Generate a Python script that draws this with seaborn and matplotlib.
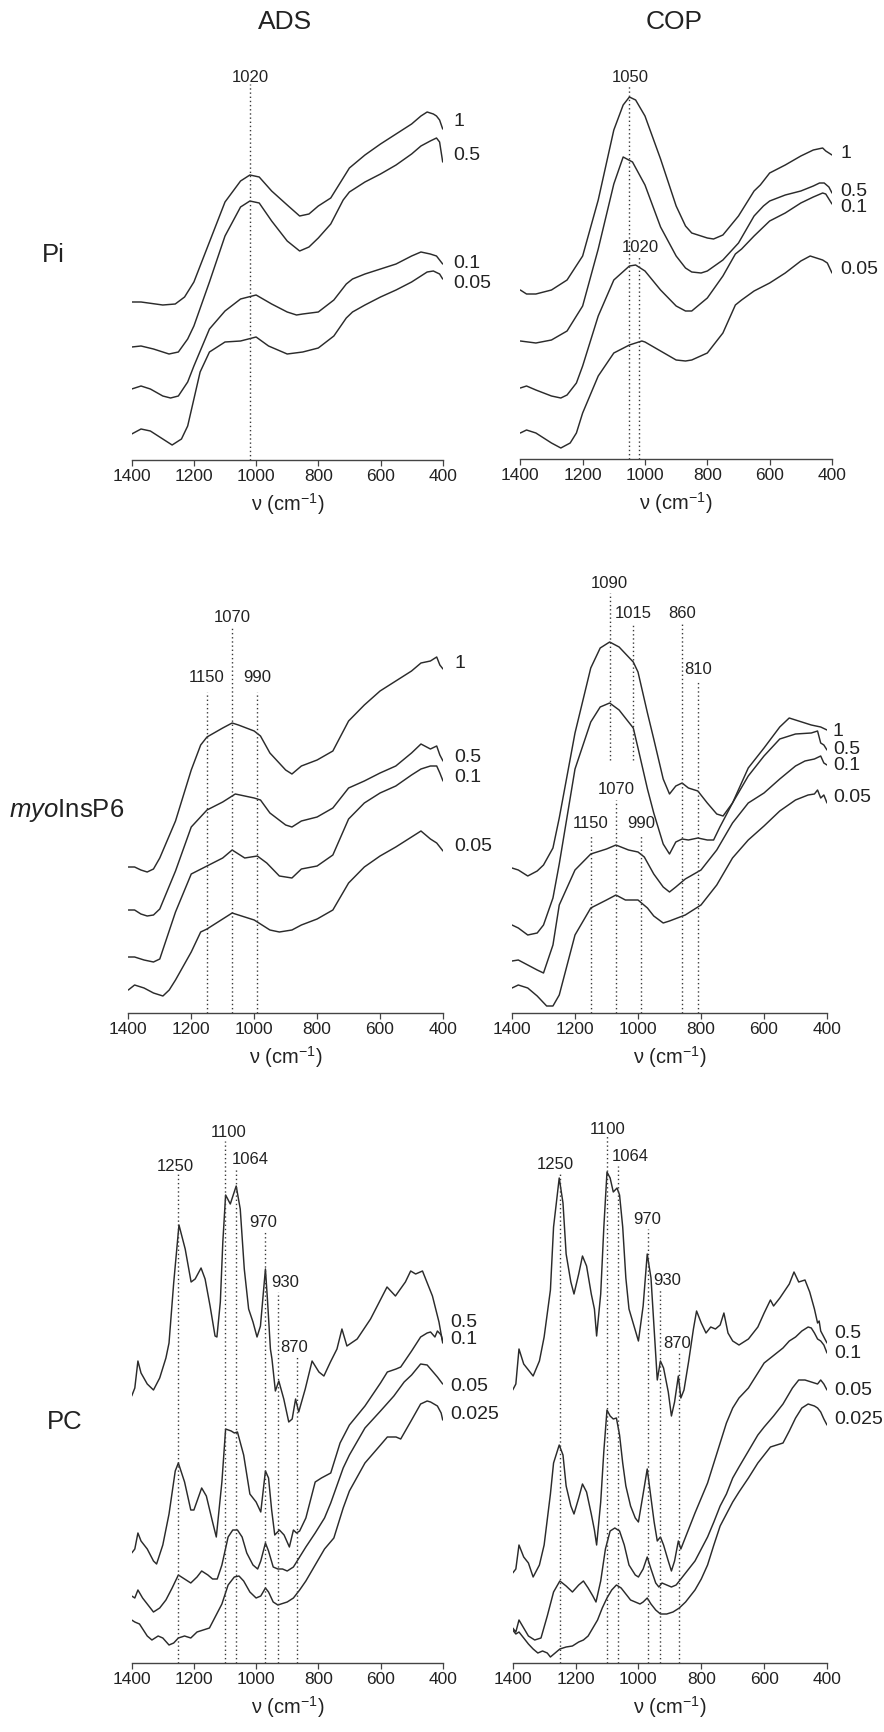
import matplotlib
matplotlib.use("Agg")
import matplotlib.pyplot as plt
import seaborn as sns
import pandas as pd

# ---------------- data (wavenumber cm-1, absorbance in arbitrary units) ----------------
# Row 1: Pi, ADS
ads_pi_1_w = [1400,1370,1300,1260,1230,1200,1150,1100,1050,1020,990,950,900,860,830,800,760,720,700,650,600,550,500,470,450,430,420,410,400]
ads_pi_1_a = [158,158,155,156,163,178,218,258,279,285,283,269,255,244,246,254,262,282,292,305,316,326,336,344,348,346,344,340,331]
ads_pi_05_w = [1400,1370,1330,1280,1250,1220,1200,1150,1100,1050,1020,990,950,900,860,830,800,760,720,700,650,600,550,500,470,440,420,410,400]
ads_pi_05_a = [113,114,111,106,108,121,134,178,224,253,259,257,239,219,209,213,222,236,260,268,278,286,295,306,314,319,322,318,298]
ads_pi_01_w = [1400,1370,1340,1300,1275,1250,1220,1200,1150,1100,1050,1000,950,900,870,850,800,750,710,690,650,600,550,500,470,440,420,400]
ads_pi_01_a = [71,74,71,64,62,64,78,94,131,149,161,165,156,148,145,146,148,160,176,181,186,191,196,204,208,206,204,196]
ads_pi_005_w = [1400,1370,1340,1300,1270,1240,1220,1200,1180,1150,1100,1050,1000,960,900,850,800,750,710,690,650,600,550,500,470,450,430,410,400]
ads_pi_005_a = [26,31,29,21,15,21,34,61,88,108,118,119,123,114,106,108,112,124,142,148,155,163,170,178,184,188,189,186,181]

# Row 1: Pi, COP
cop_pi_1_w = [1400,1380,1350,1300,1250,1200,1150,1100,1070,1050,1030,1000,950,900,870,850,800,780,750,700,650,630,600,550,500,460,430,420,410,400]
cop_pi_1_a = [169,165,165,169,179,203,259,329,354,362,359,343,300,253,233,226,221,220,224,243,268,274,286,294,303,309,311,308,306,304]
cop_pi_05_w = [1400,1350,1300,1250,1200,1150,1100,1070,1040,1000,950,900,870,850,820,800,750,700,650,620,600,550,500,460,440,425,410,400]
cop_pi_05_a = [118,116,119,128,153,210,275,302,297,274,232,203,191,187,186,188,199,216,243,253,258,264,268,273,276,276,272,266]
cop_pi_01_w = [1400,1380,1350,1300,1270,1250,1220,1200,1150,1100,1050,1030,1000,950,900,870,850,800,750,710,690,650,600,550,500,460,430,420,410,400]
cop_pi_01_a = [71,73,69,63,61,64,76,93,143,179,193,194,188,169,153,148,148,161,183,205,210,223,238,246,256,262,266,265,260,255]
cop_pi_005_w = [1400,1380,1350,1300,1270,1240,1220,1200,1150,1100,1050,1010,1000,950,900,870,850,800,750,710,690,650,600,550,500,470,450,430,415,400]
cop_pi_005_a = [26,29,26,16,11,16,26,46,83,106,114,118,117,108,99,98,99,106,126,154,159,168,176,186,198,203,201,199,196,186]

# Row 2: myo-InsP6, ADS
ads_ip6_1_w = [1400,1380,1360,1340,1320,1300,1250,1200,1170,1150,1100,1070,1050,1000,980,950,900,880,850,800,750,700,650,600,550,500,470,440,420,410,400]
ads_ip6_1_a = [146,146,143,141,144,155,192,243,268,276,285,290,288,282,277,260,243,239,247,253,262,292,308,322,332,342,350,352,356,348,344]
ads_ip6_05_w = [1400,1380,1360,1340,1320,1300,1250,1200,1150,1100,1060,1030,1000,980,950,900,880,850,800,750,700,650,600,550,500,470,440,420,410,400]
ads_ip6_05_a = [103,103,99,97,98,104,142,186,203,211,219,217,215,213,200,188,186,192,196,205,225,232,240,247,260,269,264,267,258,252]
ads_ip6_01_w = [1400,1380,1350,1320,1300,1250,1200,1150,1100,1070,1030,990,960,920,880,850,800,750,700,650,600,550,500,470,440,420,410,400]
ads_ip6_01_a = [56,56,53,51,54,101,139,147,155,163,155,157,150,137,135,144,147,158,194,210,220,227,238,244,247,247,240,232]
ads_ip6_005_w = [1400,1380,1350,1320,1290,1270,1250,1200,1170,1150,1100,1070,1050,1000,980,950,920,880,850,800,750,700,650,600,550,500,470,440,420,410,400]
ads_ip6_005_a = [23,28,25,20,17,23,33,61,81,84,94,100,98,93,89,83,81,83,88,94,103,130,146,157,166,176,182,174,170,166,162]

# Row 2: myo-InsP6, COP
cop_ip6_1_w = [1400,1380,1350,1320,1300,1270,1250,1200,1150,1120,1090,1060,1030,1015,1000,970,950,920,900,880,860,840,810,780,750,730,700,650,600,550,520,500,450,420,400]
cop_ip6_1_a = [145,143,137,142,148,165,195,280,345,365,371,366,356,351,341,300,274,234,219,227,230,225,222,210,199,197,210,245,265,286,295,293,288,286,283]
cop_ip6_05_w = [1400,1380,1350,1320,1300,1270,1250,1200,1150,1120,1090,1060,1030,1015,1000,970,950,920,900,880,860,840,810,780,760,740,700,650,600,550,500,450,430,420,410,400]
cop_ip6_05_a = [88,85,78,80,88,115,149,244,291,306,310,303,291,285,265,224,200,169,159,171,174,173,175,173,173,186,210,237,257,274,279,280,282,270,268,263]
cop_ip6_01_w = [1400,1380,1350,1320,1300,1270,1250,1200,1150,1100,1070,1030,1000,980,950,920,900,880,850,800,750,700,650,600,550,500,470,440,420,410,400]
cop_ip6_01_a = [52,53,48,43,40,68,108,143,159,164,168,163,161,156,139,126,121,126,134,143,163,190,210,220,234,247,252,254,257,250,248]
cop_ip6_005_w = [1400,1380,1350,1320,1290,1270,1250,1200,1150,1100,1070,1040,1000,970,950,920,900,850,800,750,700,650,600,550,500,460,440,430,420,410,400]
cop_ip6_005_a = [25,28,25,17,7,7,18,78,105,113,118,113,113,105,97,90,92,98,108,128,155,173,187,202,213,218,219,223,215,218,210]

# Row 3: PC, ADS
ads_pc_05_w = [1400,1390,1380,1370,1350,1330,1310,1290,1280,1265,1248,1228,1209,1196,1177,1164,1148,1132,1126,1115,1107,1098,1083,1064,1051,1038,1024,1010,997,986,970,963,954,949,938,927,911,895,884,873,863,842,820,798,782,761,740,724,708,675,632,579,552,520,503,487,465,433,412,400]
ads_pc_05_a = [267,275,302,290,279,273,285,305,320,380,438,414,381,384,395,384,357,327,326,361,421,468,459,477,454,394,354,341,326,337,394,361,314,304,272,282,264,241,244,264,251,274,302,291,287,301,314,334,317,324,344,376,367,381,392,389,392,367,341,320]
ads_pc_01_w = [1400,1390,1380,1370,1350,1330,1320,1300,1280,1260,1250,1230,1210,1200,1175,1160,1140,1128,1110,1098,1080,1070,1060,1040,1020,1000,985,970,960,950,940,925,910,893,880,870,860,840,810,790,760,730,700,650,600,578,550,535,500,471,450,439,425,417,405,400]
ads_pc_01_a = [110,114,130,122,114,102,99,118,149,192,200,181,153,153,175,167,141,126,181,234,232,230,231,208,169,161,151,192,185,153,128,133,128,116,133,130,132,145,181,185,190,220,238,257,280,291,294,296,312,326,330,331,326,332,328,322]
ads_pc_005_w = [1400,1390,1380,1365,1340,1330,1310,1290,1270,1250,1230,1210,1190,1175,1155,1140,1125,1110,1090,1075,1060,1045,1030,1010,995,985,970,960,945,930,915,900,880,860,840,810,780,760,720,700,650,600,557,524,500,471,450,439,417,400]
ads_pc_005_a = [67,65,73,65,55,51,55,63,75,88,84,80,86,92,88,84,84,98,126,133,133,126,110,98,94,102,120,112,96,94,94,92,96,106,116,130,145,160,195,208,235,252,267,281,288,299,298,294,286,279]
ads_pc_0025_w = [1400,1390,1375,1350,1335,1315,1300,1280,1265,1250,1230,1210,1190,1170,1150,1130,1110,1090,1070,1055,1040,1020,1000,985,970,960,945,930,900,880,860,840,810,780,750,720,700,650,600,578,550,535,500,471,450,439,417,405,400]
ads_pc_0025_a = [43,41,39,27,23,27,25,18,20,25,27,25,31,33,35,47,59,78,86,87,82,71,65,67,75,71,61,58,61,65,73,82,98,114,125,155,172,200,218,226,226,224,243,259,262,261,257,250,243]

# Row 3: PC, COP
cop_pc_05_w = [1400,1390,1380,1365,1350,1335,1315,1300,1280,1270,1252,1240,1230,1215,1205,1190,1178,1165,1150,1140,1133,1120,1110,1100,1090,1080,1068,1060,1050,1040,1030,1015,1000,985,972,960,950,940,930,920,905,895,885,873,865,855,840,825,815,800,785,770,755,740,728,715,700,680,650,620,600,580,570,550,520,505,490,470,455,440,430,425,420,410,400]
cop_pc_05_a = [273,279,314,299,293,287,302,326,373,436,485,460,409,381,369,389,407,397,369,354,327,369,436,491,485,471,475,468,436,385,354,338,322,357,409,385,334,283,302,295,271,247,261,287,265,273,302,334,352,340,330,336,334,338,350,330,322,318,324,336,350,363,357,365,379,391,381,383,371,354,340,342,332,326,320]
cop_pc_01_w = [1400,1390,1380,1365,1350,1335,1315,1300,1280,1270,1252,1240,1230,1215,1205,1190,1178,1165,1150,1140,1133,1120,1110,1100,1090,1080,1070,1060,1050,1040,1025,1010,1000,985,972,960,950,940,930,920,905,895,885,873,865,850,820,800,780,760,740,720,700,680,650,620,600,580,560,540,520,500,480,460,450,440,430,420,410,400]
cop_pc_01_a = [90,94,118,106,100,86,98,118,169,200,218,208,177,157,149,165,179,171,149,133,118,161,212,253,247,244,245,228,200,177,157,145,141,169,194,165,141,122,126,118,102,92,102,122,114,126,150,165,180,200,220,240,255,265,275,290,300,305,310,315,322,326,332,336,335,330,324,322,318,310]
cop_pc_005_w = [1400,1390,1380,1365,1350,1330,1310,1290,1270,1250,1230,1210,1190,1175,1160,1145,1135,1120,1105,1090,1075,1060,1045,1030,1010,1000,985,972,960,945,935,925,910,895,880,860,840,820,800,780,760,740,720,700,680,650,620,600,570,540,510,490,470,450,430,420,410,400]
cop_pc_005_a = [35,31,43,35,27,23,25,47,71,82,77,71,78,82,75,67,61,82,114,132,135,132,118,98,88,86,94,106,94,80,76,80,78,76,78,86,94,102,114,126,141,157,169,185,196,212,228,236,247,259,275,283,283,281,279,283,279,273]
cop_pc_0025_w = [1400,1390,1380,1365,1350,1335,1320,1305,1290,1280,1265,1250,1230,1210,1190,1175,1160,1145,1130,1115,1100,1085,1070,1055,1040,1025,1010,995,985,972,960,945,930,910,890,870,850,820,800,780,760,740,720,700,680,650,620,600,580,560,540,520,500,480,460,440,430,420,410,400]
cop_pc_0025_a = [33,29,31,25,19,14,10,12,10,6,10,14,16,17,21,23,27,35,43,55,65,73,78,75,69,63,61,59,61,65,59,53,49,49,51,55,61,73,84,98,118,137,149,161,171,185,200,208,216,218,220,232,245,255,259,257,255,251,244,238]

# concentrations (curve labels)
conc_pi = ["1", "0.5", "0.1", "0.05"]
conc_ip6 = ["1", "0.5", "0.1", "0.05"]
conc_pc = ["0.5", "0.1", "0.05", "0.025"]

# marked band positions (cm-1)
peaks_ads_pi = [1020]
peaks_cop_pi = [1050, 1020]
peaks_ads_ip6 = [1070, 1150, 990]
peaks_cop_ip6 = [1090, 1015, 860, 810, 1070, 1150, 990]
peaks_pc = [1250, 1100, 1064, 970, 930, 870]

col_titles = ["ADS", "COP"]
row_titles = ["Pi", r"$\it{myo}$InsP6", "PC"]
xticks = [1400, 1200, 1000, 800, 600, 400]

# ---------------- style ----------------
sns.set_theme(style="white")
plt.rcParams["font.family"] = ["Liberation Sans", "DejaVu Sans"]
plt.rcParams["mathtext.fontset"] = "custom"
plt.rcParams["mathtext.rm"] = "Liberation Sans"
plt.rcParams["mathtext.it"] = "Liberation Sans:italic"
plt.rcParams["mathtext.default"] = "regular"

W, H = 884, 1733
fig = plt.figure(figsize=(W / 100, H / 100), dpi=100)
LINE = "#2b2b2b"
DOT = "#3a3a3a"

# layout: (x of 1400, x of 400, y of axis line, height) in pixels
panels = [
    dict(rect=(131.7, 442.7, 461, 420), curves=[(ads_pi_1_w, ads_pi_1_a), (ads_pi_05_w, ads_pi_05_a), (ads_pi_01_w, ads_pi_01_a), (ads_pi_005_w, ads_pi_005_a)],
         conc=conc_pi, lab_y=[339, 306, 198, 178], lab_dx=11,
         peaks=peaks_ads_pi, ptop=[376], pbot=[0], px=[1020], py=[384]),
    dict(rect=(520.3, 832, 460, 420), curves=[(cop_pi_1_w, cop_pi_1_a), (cop_pi_05_w, cop_pi_05_a), (cop_pi_01_w, cop_pi_01_a), (cop_pi_005_w, cop_pi_005_a)],
         conc=conc_pi, lab_y=[306, 269, 253, 190], lab_dx=8,
         peaks=peaks_cop_pi, ptop=[375, 203], pbot=[0, 0], px=[1048, 1015], py=[383, 213]),
    dict(rect=(128.3, 443, 1014, 480), curves=[(ads_ip6_1_w, ads_ip6_1_a), (ads_ip6_05_w, ads_ip6_05_a), (ads_ip6_01_w, ads_ip6_01_a), (ads_ip6_005_w, ads_ip6_005_a)],
         conc=conc_ip6, lab_y=[351, 257, 236, 167], lab_dx=11,
         peaks=peaks_ads_ip6, ptop=[386, 321, 321], pbot=[0, 0, 0], px=[1070, 1150, 990], py=[396, 337, 337]),
    dict(rect=(512, 827, 1014, 480), curves=[(cop_ip6_1_w, cop_ip6_1_a), (cop_ip6_05_w, cop_ip6_05_a), (cop_ip6_01_w, cop_ip6_01_a), (cop_ip6_005_w, cop_ip6_005_a)],
         conc=conc_ip6, lab_y=[282, 264, 248, 217], lab_dx=6,
         peaks=peaks_cop_ip6, ptop=[420, 389, 389, 333, 213, 179, 179], pbot=[253, 253, 0, 0, 0, 0, 0],
         px=[1090, 1015, 860, 810, 1070, 1150, 990], py=[430, 400, 400, 344, 224, 190, 190]),
    dict(rect=(131.7, 442.7, 1664, 560), curves=[(ads_pc_05_w, ads_pc_05_a), (ads_pc_01_w, ads_pc_01_a), (ads_pc_005_w, ads_pc_005_a), (ads_pc_0025_w, ads_pc_0025_a)],
         conc=conc_pc, lab_y=[341, 324, 277, 249], lab_dx=8,
         peaks=peaks_pc, ptop=[489, 522, 494, 432, 371, 306], pbot=[0] * 6,
         px=[1260, 1089, 1019, 976, 908, 879], py=[497, 531, 504, 441, 381, 316]),
    dict(rect=(512.7, 827, 1664, 560), curves=[(cop_pc_05_w, cop_pc_05_a), (cop_pc_01_w, cop_pc_01_a), (cop_pc_005_w, cop_pc_005_a), (cop_pc_0025_w, cop_pc_0025_a)],
         conc=conc_pc, lab_y=[330, 310, 273, 244], lab_dx=7,
         peaks=peaks_pc, ptop=[491, 528, 497, 434, 373, 310], pbot=[0] * 6,
         px=[1264, 1098, 1026, 973, 908, 877], py=[499, 534, 507, 444, 383, 320]),
]

for p in panels:
    x0, x1, yb, hgt = p["rect"]
    ax = fig.add_axes([x0 / W, 1 - yb / H, (x1 - x0) / W, hgt / H])
    ax.set_xlim(1400, 400)
    ax.set_ylim(0, hgt)
    for w, a in p["curves"]:
        df = pd.DataFrame({"w": w, "a": a})
        sns.lineplot(data=df, x="w", y="a", ax=ax, color=LINE, linewidth=1.05,
                     estimator=None, sort=False, legend=False)
    for pk, t, b in zip(p["peaks"], p["ptop"], p["pbot"]):
        ax.vlines(pk, b, t, colors=DOT, linestyles=(0, (1, 2)), linewidth=1.0)
    for pk, lx, ly in zip(p["peaks"], p["px"], p["py"]):
        ax.text(lx, ly, str(pk), ha="center", va="center", fontsize=12, color="#222", clip_on=False)
    for c, ly in zip(p["conc"], p["lab_y"]):
        ax.annotate(c, xy=(400, ly), xytext=(p["lab_dx"], 0), textcoords="offset pixels",
                    ha="left", va="center", fontsize=14, color="#222", annotation_clip=False)
    for s in ("top", "right", "left"):
        ax.spines[s].set_visible(False)
    ax.spines["bottom"].set_color("#444")
    ax.spines["bottom"].set_linewidth(1.0)
    ax.set_yticks([])
    ax.set_xticks(xticks)
    ax.set_xticklabels([str(t) for t in xticks])
    ax.tick_params(axis="x", direction="out", length=4, width=0.9, color="#444",
                   pad=2, labelsize=12.5, labelcolor="#222", bottom=True)
    ax.set_xlabel(r"ν (cm$^{-1}$)", fontsize=14.5, color="#222", labelpad=5)
    ax.set_ylabel("")
    ax.patch.set_alpha(0)

# column and row titles
fig.text(285 / W, 1 - 22 / H, col_titles[0], ha="center", va="center", fontsize=19, color="#222")
fig.text(674 / W, 1 - 22 / H, col_titles[1], ha="center", va="center", fontsize=19, color="#222")
fig.text(53 / W, 1 - 255 / H, row_titles[0], ha="center", va="center", fontsize=18.5, color="#222")
fig.text(67 / W, 1 - 811 / H, row_titles[1], ha="center", va="center", fontsize=18.5, color="#222")
fig.text(65 / W, 1 - 1422 / H, row_titles[2], ha="center", va="center", fontsize=18.5, color="#222")

fig.savefig("out.png", dpi=100, facecolor="white")
